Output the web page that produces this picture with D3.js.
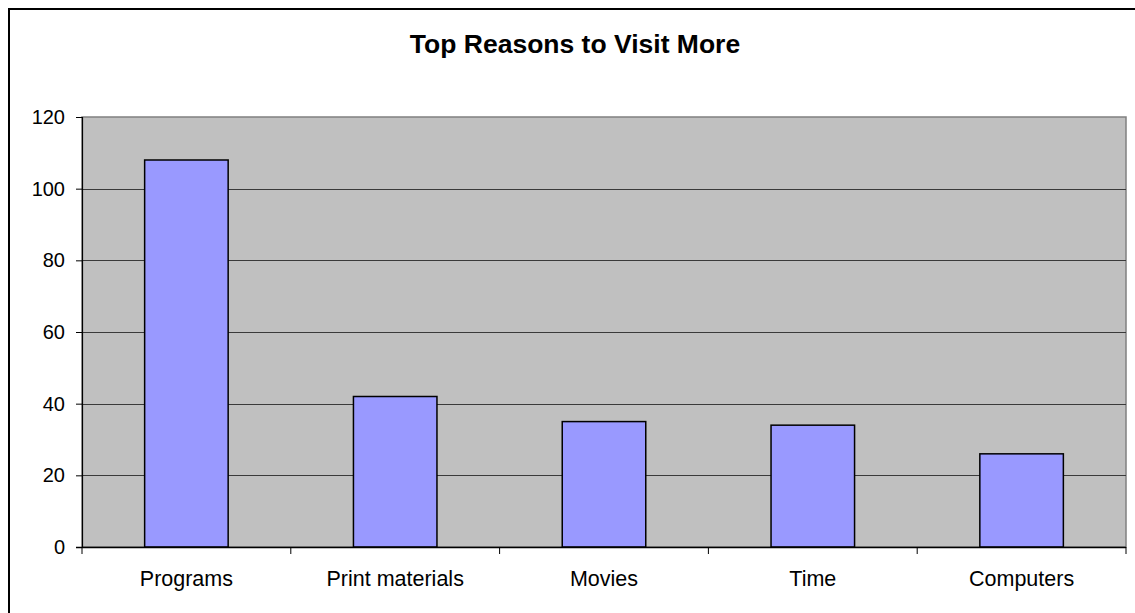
<!DOCTYPE html>
<html>
<head>
<meta charset="utf-8">
<script src="https://cdn.jsdelivr.net/npm/d3@7"></script>
<style>
  html, body { margin: 0; padding: 0; background: #fff; }
  svg { display: block; font-family: "Liberation Sans", Arial, sans-serif; }
</style>
</head>
<body>
<svg id="chart" width="1135" height="613"></svg>
<script>
const categories = ["Programs", "Print materials", "Movies", "Time", "Computers"];
const values = [108, 42, 35, 34, 26];
const yTicks = [0, 20, 40, 60, 80, 100, 120];
const title = "Top Reasons to Visit More";

const svg = d3.select("#chart");
const W = 1135, H = 613;
const plot = { left: 82, right: 1126, top: 117, bottom: 547 };

// outer chart border (extends past the visible right/bottom edges)
svg.append("rect")
  .attr("x", 9).attr("y", 9).attr("width", W + 20).attr("height", H + 20)
  .attr("fill", "#fff").attr("stroke", "#000").attr("stroke-width", 2);

const x = d3.scaleBand().domain(categories)
  .range([plot.left, plot.right]).paddingInner(0.6).paddingOuter(0.3);
const y = d3.scaleLinear().domain([0, 120]).range([plot.bottom, plot.top]);

// plot area
svg.append("rect")
  .attr("x", plot.left).attr("y", plot.top)
  .attr("width", plot.right - plot.left).attr("height", plot.bottom - plot.top)
  .attr("fill", "#C0C0C0").attr("stroke", "#808080").attr("stroke-width", 1.5);

// gridlines
svg.append("g").selectAll("line").data(yTicks.filter(d => d > 0 && d < 120)).join("line")
  .attr("x1", plot.left).attr("x2", plot.right)
  .attr("y1", d => Math.round(y(d)) + 0.5).attr("y2", d => Math.round(y(d)) + 0.5)
  .attr("stroke", "#3a3a3a").attr("stroke-width", 1);

// bars
svg.append("g").selectAll("rect").data(values).join("rect")
  .attr("x", (d, i) => x(categories[i]))
  .attr("y", d => y(d))
  .attr("width", x.bandwidth())
  .attr("height", d => y(0) - y(d))
  .attr("fill", "#9999FF").attr("stroke", "#000").attr("stroke-width", 1.5);

// y axis
const yAxis = d3.axisLeft(y).tickValues(yTicks).tickSize(6).tickPadding(11);
const gy = svg.append("g").attr("transform", `translate(${plot.left},0)`).call(yAxis);
gy.select(".domain").attr("stroke", "#000").attr("stroke-width", 1.2);
gy.selectAll(".tick line").attr("stroke", "#000");
gy.selectAll(".tick text").attr("font-size", 20).attr("fill", "#000")
  .attr("font-family", "'Liberation Sans', Arial, sans-serif");

// x axis: line and ticks at category boundaries
const gx = svg.append("g");
gx.append("line").attr("x1", plot.left - 6).attr("x2", plot.right)
  .attr("y1", plot.bottom + 0.5).attr("y2", plot.bottom + 0.5)
  .attr("stroke", "#000").attr("stroke-width", 1.5);
const step = x.step();
const bounds = d3.range(categories.length + 1).map(i => plot.left + i * step);
gx.selectAll("line.tk").data(bounds).join("line").attr("class", "tk")
  .attr("x1", d => d).attr("x2", d => d)
  .attr("y1", plot.bottom).attr("y2", plot.bottom + 7)
  .attr("stroke", "#000").attr("stroke-width", 1);
gx.selectAll("text").data(categories).join("text")
  .attr("x", d => x(d) + x.bandwidth() / 2)
  .attr("y", plot.bottom + 39)
  .attr("text-anchor", "middle")
  .attr("font-size", 21.5).attr("fill", "#000")
  .text(d => d);

// title
svg.append("text")
  .attr("x", 575).attr("y", 53)
  .attr("text-anchor", "middle")
  .attr("font-size", 26.5).attr("font-weight", "bold").attr("fill", "#000")
  .text(title);
</script>
</body>
</html>
